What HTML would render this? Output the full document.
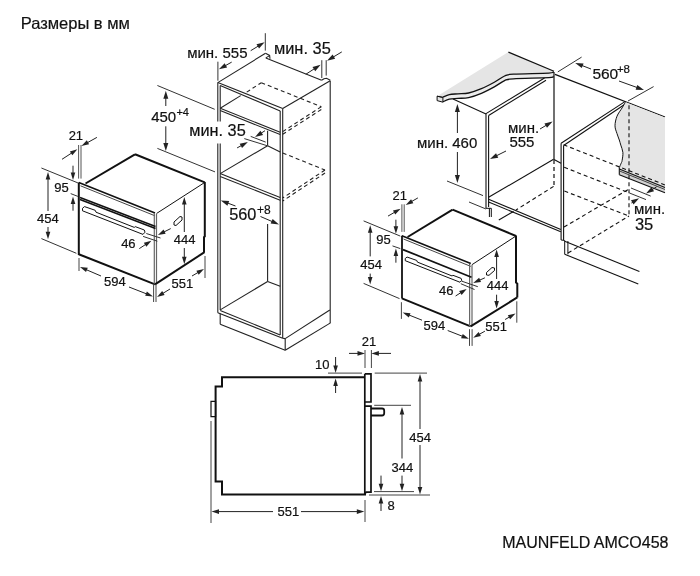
<!DOCTYPE html>
<html><head><meta charset="utf-8"><style>
html,body{margin:0;padding:0;background:#fff;}
svg{display:block;filter:blur(0.3px);font-family:"Liberation Sans",sans-serif;}
</style></head><body>
<svg width="700" height="576" viewBox="0 0 700 576">
<rect width="700" height="576" fill="#fff"/>
<text x="20.7" y="29" font-size="16.5" text-anchor="start" fill="#111" stroke="#111" stroke-width="0.2" >Размеры в мм</text>
<text x="668.5" y="547.6" font-size="16" text-anchor="end" fill="#111" stroke="#111" stroke-width="0.2" >MAUNFELD AMCO458</text>
<line x1="78.80" y1="182.50" x2="78.80" y2="255.00" stroke="#111" stroke-width="2" />
<line x1="78.80" y1="182.50" x2="155.00" y2="213.00" stroke="#111" stroke-width="1.6" />
<line x1="80.50" y1="185.80" x2="155.00" y2="215.80" stroke="#444" stroke-width="1" />
<line x1="78.80" y1="254.30" x2="155.00" y2="284.40" stroke="#111" stroke-width="2" />
<line x1="154.30" y1="213.00" x2="154.30" y2="284.30" stroke="#666" stroke-width="1.2" />
<line x1="156.50" y1="214.00" x2="156.50" y2="284.30" stroke="#666" stroke-width="1.2" />
<line x1="85.50" y1="183.50" x2="135.00" y2="154.30" stroke="#111" stroke-width="2" />
<line x1="135.00" y1="154.30" x2="204.80" y2="182.40" stroke="#111" stroke-width="2" />
<line x1="156.50" y1="213.50" x2="204.80" y2="182.40" stroke="#111" stroke-width="1" />
<polyline points="204.80,182.00 204.80,236.50 204.00,237.00 204.00,252.50" stroke="#111" stroke-width="2" fill="none" stroke-linejoin="miter" />
<line x1="155.00" y1="284.30" x2="204.50" y2="252.20" stroke="#111" stroke-width="2" />
<line x1="80.00" y1="197.60" x2="155.50" y2="226.60" stroke="#111" stroke-width="1.6" />
<line x1="80.00" y1="199.40" x2="155.50" y2="228.40" stroke="#111" stroke-width="1.6" />
<polygon points="82.50,208.30 84.50,206.60 95.20,210.30 96.00,212.20 134.30,227.40 135.20,226.60 144.30,230.00 145.00,232.20 143.00,234.40 82.50,210.80" stroke="#111" stroke-width="1" fill="none" stroke-linejoin="miter" />
<polygon points="174.00,222.00 180.00,216.50 182.00,217.00 182.00,220.00 176.00,225.50 174.00,225.00" stroke="#111" stroke-width="1" fill="none" stroke-linejoin="miter" />
<line x1="78.60" y1="145.00" x2="78.60" y2="178.60" stroke="#555" stroke-width="1" />
<line x1="81.00" y1="145.00" x2="81.00" y2="178.60" stroke="#555" stroke-width="1" />
<line x1="62.00" y1="159.30" x2="71.95" y2="152.84" stroke="#222" stroke-width="1" />
<polygon points="77.40,149.30 72.36,155.31 69.86,151.46" fill="#222"/>
<line x1="96.90" y1="137.40" x2="87.08" y2="142.85" stroke="#222" stroke-width="1" />
<polygon points="81.40,146.00 86.84,140.35 89.07,144.37" fill="#222"/>
<text x="68.65" y="139.5" font-size="13" text-anchor="start" fill="#111" stroke="#111" stroke-width="0.2" >21</text>
<line x1="73.00" y1="165.70" x2="73.00" y2="173.50" stroke="#222" stroke-width="1" />
<polygon points="73.00,180.00 70.70,172.50 75.30,172.50" fill="#222"/>
<line x1="73.00" y1="210.70" x2="73.00" y2="202.90" stroke="#222" stroke-width="1" />
<polygon points="73.00,196.40 75.30,203.90 70.70,203.90" fill="#222"/>
<line x1="70.70" y1="193.60" x2="77.90" y2="196.40" stroke="#333" stroke-width="1" />
<text x="54.35" y="191.8" font-size="13" text-anchor="start" fill="#111" stroke="#111" stroke-width="0.2" >95</text>
<line x1="41.40" y1="168.00" x2="77.90" y2="182.90" stroke="#333" stroke-width="1" />
<line x1="41.40" y1="238.60" x2="76.40" y2="253.30" stroke="#333" stroke-width="1" />
<line x1="48.00" y1="211.00" x2="48.00" y2="178.50" stroke="#222" stroke-width="1" />
<polygon points="48.00,172.00 50.30,179.50 45.70,179.50" fill="#222"/>
<line x1="48.00" y1="227.00" x2="48.00" y2="232.80" stroke="#222" stroke-width="1" />
<polygon points="48.00,239.30 45.70,231.80 50.30,231.80" fill="#222"/>
<text x="36.94" y="223.4" font-size="13" text-anchor="start" fill="#111" stroke="#111" stroke-width="0.2" >454</text>
<line x1="79.00" y1="258.00" x2="79.00" y2="271.00" stroke="#444" stroke-width="1" />
<line x1="153.60" y1="285.00" x2="153.60" y2="302.00" stroke="#444" stroke-width="1" />
<line x1="156.00" y1="285.00" x2="156.00" y2="302.00" stroke="#444" stroke-width="1" />
<line x1="101.00" y1="276.00" x2="85.97" y2="269.56" stroke="#222" stroke-width="1" />
<polygon points="80.00,267.00 87.80,267.84 85.99,272.07" fill="#222"/>
<line x1="129.00" y1="287.00" x2="146.95" y2="294.03" stroke="#222" stroke-width="1" />
<polygon points="153.00,296.40 145.18,295.81 146.86,291.52" fill="#222"/>
<text x="104.08" y="286.4" font-size="13" text-anchor="start" fill="#111" stroke="#111" stroke-width="0.2" >594</text>
<line x1="205.00" y1="256.00" x2="205.00" y2="278.00" stroke="#444" stroke-width="1" />
<line x1="170.00" y1="289.00" x2="162.54" y2="293.59" stroke="#222" stroke-width="1" />
<polygon points="157.00,297.00 162.18,291.11 164.59,295.03" fill="#222"/>
<line x1="192.00" y1="276.00" x2="198.39" y2="272.28" stroke="#222" stroke-width="1" />
<polygon points="204.00,269.00 198.68,274.77 196.36,270.79" fill="#222"/>
<text x="171.48" y="288" font-size="13" text-anchor="start" fill="#111" stroke="#111" stroke-width="0.2" >551</text>
<line x1="184.30" y1="232.00" x2="184.30" y2="203.60" stroke="#222" stroke-width="1" />
<polygon points="184.30,197.10 186.60,204.60 182.00,204.60" fill="#222"/>
<line x1="184.30" y1="248.00" x2="184.30" y2="257.80" stroke="#222" stroke-width="1" />
<polygon points="184.30,264.30 182.00,256.80 186.60,256.80" fill="#222"/>
<text x="173.74" y="244" font-size="13" text-anchor="start" fill="#111" stroke="#111" stroke-width="0.2" >444</text>
<line x1="146.30" y1="233.50" x2="160.50" y2="238.00" stroke="#333" stroke-width="1" />
<line x1="143.10" y1="236.40" x2="157.30" y2="241.20" stroke="#333" stroke-width="1" />
<line x1="139.30" y1="248.60" x2="145.96" y2="244.25" stroke="#222" stroke-width="1" />
<polygon points="151.40,240.70 146.38,246.73 143.86,242.87" fill="#222"/>
<line x1="170.70" y1="228.60" x2="163.71" y2="232.09" stroke="#222" stroke-width="1" />
<polygon points="157.90,235.00 163.58,229.59 165.64,233.70" fill="#222"/>
<text x="121.14" y="248.3" font-size="13" text-anchor="start" fill="#111" stroke="#111" stroke-width="0.2" >46</text>
<line x1="217.80" y1="82.60" x2="217.80" y2="121.40" stroke="#222" stroke-width="1.1" />
<line x1="217.80" y1="143.60" x2="217.80" y2="312.70" stroke="#222" stroke-width="1.1" />
<line x1="220.20" y1="85.50" x2="220.20" y2="121.40" stroke="#222" stroke-width="1.1" />
<line x1="220.20" y1="143.60" x2="220.20" y2="310.00" stroke="#222" stroke-width="1.1" />
<line x1="217.80" y1="82.60" x2="265.50" y2="53.30" stroke="#222" stroke-width="1.1" />
<polyline points="265.50,53.30 269.60,55.40 270.00,58.80" stroke="#222" stroke-width="1.1" fill="none" stroke-linejoin="miter" />
<line x1="265.80" y1="57.90" x2="269.60" y2="55.60" stroke="#222" stroke-width="1.1" />
<line x1="265.80" y1="57.90" x2="321.60" y2="80.20" stroke="#222" stroke-width="1.1" />
<polyline points="321.60,80.20 324.00,78.70 326.50,78.30 330.30,80.30" stroke="#222" stroke-width="1.1" fill="none" stroke-linejoin="miter" />
<line x1="217.80" y1="82.60" x2="282.70" y2="108.40" stroke="#222" stroke-width="1.1" />
<line x1="220.20" y1="85.40" x2="280.20" y2="111.00" stroke="#222" stroke-width="1.1" />
<line x1="282.70" y1="108.40" x2="330.20" y2="80.80" stroke="#222" stroke-width="1.1" />
<line x1="280.20" y1="111.00" x2="280.20" y2="335.00" stroke="#222" stroke-width="1.1" />
<line x1="282.70" y1="108.40" x2="282.70" y2="338.30" stroke="#222" stroke-width="1.1" />
<line x1="330.20" y1="80.80" x2="330.20" y2="322.90" stroke="#222" stroke-width="1.1" />
<line x1="220.20" y1="108.20" x2="280.20" y2="132.30" stroke="#222" stroke-width="1.1" />
<line x1="220.20" y1="110.60" x2="280.20" y2="134.60" stroke="#222" stroke-width="1.1" />
<line x1="220.20" y1="108.20" x2="240.70" y2="95.60" stroke="#222" stroke-width="1.1" />
<line x1="246.70" y1="92.10" x2="261.30" y2="82.70" stroke="#222" stroke-width="1.1" stroke-dasharray="4,3"/>
<line x1="261.30" y1="82.70" x2="321.30" y2="106.70" stroke="#222" stroke-width="1.1" stroke-dasharray="4,3"/>
<line x1="321.30" y1="106.70" x2="282.70" y2="131.60" stroke="#222" stroke-width="1.1" stroke-dasharray="4,3"/>
<line x1="321.30" y1="109.50" x2="282.70" y2="134.30" stroke="#222" stroke-width="1.1" stroke-dasharray="4,3"/>
<line x1="267.60" y1="130.70" x2="267.60" y2="145.70" stroke="#222" stroke-width="1.1" />
<line x1="220.20" y1="173.60" x2="280.20" y2="197.60" stroke="#222" stroke-width="1.1" />
<line x1="220.20" y1="176.40" x2="280.20" y2="200.20" stroke="#222" stroke-width="1.1" />
<line x1="220.20" y1="173.60" x2="267.60" y2="145.70" stroke="#222" stroke-width="1.1" />
<line x1="267.60" y1="145.70" x2="280.20" y2="152.00" stroke="#222" stroke-width="1.1" />
<line x1="282.70" y1="153.00" x2="325.00" y2="170.00" stroke="#222" stroke-width="1.1" stroke-dasharray="4,3"/>
<line x1="325.00" y1="170.00" x2="282.70" y2="198.00" stroke="#222" stroke-width="1.1" stroke-dasharray="4,3"/>
<line x1="325.00" y1="173.00" x2="282.70" y2="201.00" stroke="#222" stroke-width="1.1" stroke-dasharray="4,3"/>
<line x1="267.60" y1="224.00" x2="267.60" y2="281.50" stroke="#222" stroke-width="1.1" />
<line x1="220.20" y1="309.90" x2="267.60" y2="281.50" stroke="#222" stroke-width="1.1" />
<line x1="267.60" y1="281.50" x2="280.20" y2="286.30" stroke="#222" stroke-width="1.1" />
<line x1="220.20" y1="310.50" x2="280.20" y2="335.00" stroke="#222" stroke-width="1.1" />
<line x1="217.80" y1="312.70" x2="282.70" y2="338.30" stroke="#222" stroke-width="1.1" />
<line x1="220.20" y1="313.50" x2="220.20" y2="324.20" stroke="#222" stroke-width="1.1" />
<line x1="220.20" y1="324.20" x2="285.20" y2="350.20" stroke="#222" stroke-width="1.1" />
<line x1="282.70" y1="338.30" x2="285.20" y2="338.60" stroke="#222" stroke-width="1.1" />
<line x1="285.20" y1="338.60" x2="285.20" y2="350.20" stroke="#222" stroke-width="1.1" />
<line x1="285.20" y1="350.20" x2="330.50" y2="322.90" stroke="#222" stroke-width="1.1" />
<line x1="285.20" y1="338.60" x2="329.80" y2="310.00" stroke="#222" stroke-width="1.1" />
<line x1="217.90" y1="61.70" x2="217.90" y2="80.70" stroke="#333" stroke-width="1" />
<line x1="265.30" y1="33.20" x2="265.30" y2="50.60" stroke="#333" stroke-width="1" />
<line x1="231.70" y1="62.10" x2="225.00" y2="65.87" stroke="#222" stroke-width="1" />
<polygon points="218.90,69.30 224.65,63.20 227.10,67.56" fill="#222"/>
<line x1="250.70" y1="50.70" x2="258.63" y2="45.85" stroke="#222" stroke-width="1" />
<polygon points="264.60,42.20 259.08,48.51 256.47,44.24" fill="#222"/>
<line x1="321.80" y1="60.20" x2="321.80" y2="78.00" stroke="#333" stroke-width="1" />
<line x1="326.20" y1="60.20" x2="326.20" y2="75.60" stroke="#333" stroke-width="1" />
<line x1="305.80" y1="74.30" x2="314.73" y2="68.51" stroke="#222" stroke-width="1" />
<polygon points="320.60,64.70 315.25,71.15 312.53,66.96" fill="#222"/>
<line x1="341.80" y1="51.90" x2="333.00" y2="57.19" stroke="#222" stroke-width="1" />
<polygon points="327.00,60.80 332.57,54.53 335.14,58.82" fill="#222"/>
<line x1="157.40" y1="85.50" x2="214.70" y2="109.30" stroke="#333" stroke-width="1" />
<line x1="157.40" y1="148.40" x2="215.00" y2="171.90" stroke="#333" stroke-width="1" />
<line x1="165.80" y1="106.00" x2="165.80" y2="97.70" stroke="#222" stroke-width="1" />
<polygon points="165.80,90.70 168.30,98.70 163.30,98.70" fill="#222"/>
<line x1="165.80" y1="126.30" x2="165.80" y2="144.00" stroke="#222" stroke-width="1" />
<polygon points="165.80,151.00 163.30,143.00 168.30,143.00" fill="#222"/>
<line x1="235.50" y1="206.00" x2="227.36" y2="202.95" stroke="#222" stroke-width="1" />
<polygon points="220.80,200.50 229.17,200.96 227.42,205.64" fill="#222"/>
<line x1="260.50" y1="216.50" x2="272.58" y2="221.72" stroke="#222" stroke-width="1" />
<polygon points="279.00,224.50 270.66,223.62 272.65,219.03" fill="#222"/>
<line x1="250.70" y1="136.40" x2="265.70" y2="142.10" stroke="#333" stroke-width="1" />
<line x1="244.30" y1="138.60" x2="267.10" y2="145.70" stroke="#333" stroke-width="1" />
<line x1="265.00" y1="130.70" x2="260.90" y2="133.33" stroke="#222" stroke-width="1" />
<polygon points="255.00,137.10 260.39,130.68 263.09,134.89" fill="#222"/>
<line x1="237.10" y1="147.90" x2="241.73" y2="145.41" stroke="#222" stroke-width="1" />
<polygon points="247.90,142.10 242.03,148.09 239.67,143.68" fill="#222"/>
<text x="187.15" y="57.6" font-size="15" text-anchor="start" fill="#111" stroke="#111" stroke-width="0.2" >мин. 555</text>
<text x="273.95" y="54.3" font-size="16.4" text-anchor="start" fill="#111" stroke="#111" stroke-width="0.2" >мин. 35</text>
<text x="151.2" y="121.6" font-size="15" text-anchor="start" fill="#111" stroke="#111" stroke-width="0.2" >450</text>
<text x="176.45" y="115.6" font-size="11" text-anchor="start" fill="#111" stroke="#111" stroke-width="0.2" >+4</text>
<text x="229.15" y="220" font-size="16.3" text-anchor="start" fill="#111" stroke="#111" stroke-width="0.2" >560</text>
<text x="256.9" y="213.8" font-size="12" text-anchor="start" fill="#111" stroke="#111" stroke-width="0.2" >+8</text>
<text x="189.26" y="135.7" font-size="16.3" text-anchor="start" fill="#111" stroke="#111" stroke-width="0.2" >мин. 35</text>
<line x1="402.00" y1="235.80" x2="402.00" y2="298.60" stroke="#111" stroke-width="1.8" />
<line x1="401.90" y1="235.80" x2="470.80" y2="263.60" stroke="#111" stroke-width="1.6" />
<line x1="403.50" y1="239.00" x2="470.80" y2="266.40" stroke="#444" stroke-width="1" />
<line x1="401.90" y1="298.40" x2="470.60" y2="326.40" stroke="#111" stroke-width="2" />
<line x1="469.60" y1="264.00" x2="469.60" y2="326.40" stroke="#666" stroke-width="1.2" />
<line x1="472.00" y1="264.80" x2="472.00" y2="326.40" stroke="#666" stroke-width="1.2" />
<line x1="407.60" y1="237.00" x2="452.60" y2="209.70" stroke="#111" stroke-width="2" />
<line x1="452.60" y1="209.70" x2="516.00" y2="236.00" stroke="#111" stroke-width="2" />
<line x1="472.10" y1="264.60" x2="516.00" y2="236.00" stroke="#111" stroke-width="1" />
<polyline points="516.00,235.60 516.00,282.50 517.30,283.60 517.30,297.60" stroke="#111" stroke-width="2" fill="none" stroke-linejoin="miter" />
<line x1="470.60" y1="326.40" x2="517.30" y2="297.40" stroke="#111" stroke-width="2" />
<line x1="403.00" y1="249.60" x2="471.50" y2="277.20" stroke="#111" stroke-width="1.7" />
<polygon points="405.25,258.50 407.05,257.04 416.73,260.43 417.45,262.11 452.08,275.97 452.90,275.28 461.13,278.38 461.76,280.32 459.95,282.23 405.25,260.70" stroke="#111" stroke-width="1" fill="none" stroke-linejoin="miter" />
<polygon points="486.50,272.50 492.00,267.50 494.50,268.00 494.50,270.50 489.00,275.30 486.50,275.00" stroke="#111" stroke-width="1" fill="none" stroke-linejoin="miter" />
<line x1="401.90" y1="204.30" x2="401.90" y2="231.90" stroke="#555" stroke-width="1" />
<line x1="404.20" y1="204.30" x2="404.20" y2="231.90" stroke="#555" stroke-width="1" />
<line x1="388.00" y1="216.10" x2="394.98" y2="212.06" stroke="#222" stroke-width="1" />
<polygon points="400.60,208.80 395.26,214.55 392.96,210.57" fill="#222"/>
<line x1="417.90" y1="197.90" x2="411.34" y2="201.67" stroke="#222" stroke-width="1" />
<polygon points="405.70,204.90 411.06,199.17 413.35,203.16" fill="#222"/>
<text x="392.45" y="199.5" font-size="13" text-anchor="start" fill="#111" stroke="#111" stroke-width="0.2" >21</text>
<line x1="395.90" y1="219.70" x2="395.90" y2="227.30" stroke="#222" stroke-width="1" />
<polygon points="395.90,233.80 393.60,226.30 398.20,226.30" fill="#222"/>
<line x1="395.90" y1="262.70" x2="395.90" y2="255.10" stroke="#222" stroke-width="1" />
<polygon points="395.90,248.60 398.20,256.10 393.60,256.10" fill="#222"/>
<line x1="392.50" y1="245.90" x2="400.30" y2="248.60" stroke="#333" stroke-width="1" />
<text x="376.25" y="244.4" font-size="13" text-anchor="start" fill="#111" stroke="#111" stroke-width="0.2" >95</text>
<line x1="363.60" y1="220.90" x2="400.30" y2="236.10" stroke="#333" stroke-width="1" />
<line x1="363.60" y1="283.40" x2="399.50" y2="298.60" stroke="#333" stroke-width="1" />
<line x1="370.20" y1="256.40" x2="370.20" y2="231.70" stroke="#222" stroke-width="1" />
<polygon points="370.20,225.20 372.50,232.70 367.90,232.70" fill="#222"/>
<line x1="370.20" y1="273.60" x2="370.20" y2="278.00" stroke="#222" stroke-width="1" />
<polygon points="370.20,284.50 367.90,277.00 372.50,277.00" fill="#222"/>
<text x="360.24" y="269.4" font-size="13" text-anchor="start" fill="#111" stroke="#111" stroke-width="0.2" >454</text>
<line x1="401.40" y1="302.20" x2="401.40" y2="318.90" stroke="#444" stroke-width="1" />
<line x1="422.00" y1="320.20" x2="408.74" y2="314.91" stroke="#222" stroke-width="1" />
<polygon points="402.70,312.50 410.52,313.14 408.81,317.42" fill="#222"/>
<line x1="447.70" y1="330.50" x2="462.85" y2="336.43" stroke="#222" stroke-width="1" />
<polygon points="468.90,338.80 461.08,338.21 462.75,333.92" fill="#222"/>
<line x1="469.50" y1="329.20" x2="469.50" y2="345.90" stroke="#444" stroke-width="1" />
<line x1="472.10" y1="329.20" x2="472.10" y2="345.90" stroke="#444" stroke-width="1" />
<text x="423.48" y="329.6" font-size="13" text-anchor="start" fill="#111" stroke="#111" stroke-width="0.2" >594</text>
<line x1="516.80" y1="301.30" x2="516.80" y2="322.70" stroke="#444" stroke-width="1" />
<line x1="505.10" y1="319.50" x2="509.85" y2="316.81" stroke="#222" stroke-width="1" />
<polygon points="515.50,313.60 510.11,319.30 507.84,315.30" fill="#222"/>
<line x1="484.90" y1="331.20" x2="478.88" y2="334.54" stroke="#222" stroke-width="1" />
<polygon points="473.20,337.70 478.64,332.05 480.87,336.07" fill="#222"/>
<text x="485.28" y="330.6" font-size="13" text-anchor="start" fill="#111" stroke="#111" stroke-width="0.2" >551</text>
<line x1="496.60" y1="279.00" x2="496.60" y2="255.90" stroke="#222" stroke-width="1" />
<polygon points="496.60,249.40 498.90,256.90 494.30,256.90" fill="#222"/>
<line x1="496.60" y1="294.70" x2="496.60" y2="301.90" stroke="#222" stroke-width="1" />
<polygon points="496.60,308.40 494.30,300.90 498.90,300.90" fill="#222"/>
<text x="486.84" y="290.4" font-size="13" text-anchor="start" fill="#111" stroke="#111" stroke-width="0.2" >444</text>
<line x1="461.50" y1="281.10" x2="477.80" y2="286.70" stroke="#333" stroke-width="1" />
<line x1="460.80" y1="283.70" x2="474.50" y2="289.50" stroke="#333" stroke-width="1" />
<line x1="455.60" y1="296.00" x2="461.22" y2="292.40" stroke="#222" stroke-width="1" />
<polygon points="466.70,288.90 461.62,294.88 459.14,291.00" fill="#222"/>
<line x1="484.90" y1="277.80" x2="479.14" y2="280.36" stroke="#222" stroke-width="1" />
<polygon points="473.20,283.00 479.12,277.85 480.99,282.06" fill="#222"/>
<text x="439.04" y="295.4" font-size="13" text-anchor="start" fill="#111" stroke="#111" stroke-width="0.2" >46</text>
<path d="M437.1,96.2 L508.4,52.1 L554,71.2 L553.50,71.60 C552.72,71.85 555.47,72.67 548.80,73.10 C542.13,73.53 520.87,73.72 513.50,74.20 C506.13,74.68 507.80,74.65 504.60,76.00 C501.40,77.35 498.17,80.18 494.30,82.30 C490.43,84.42 485.68,86.92 481.40,88.70 C477.12,90.48 472.50,92.15 468.60,93.00 C464.70,93.85 461.22,93.53 458.00,93.80 C454.78,94.07 451.82,94.03 449.30,94.60 C446.78,95.17 443.97,96.77 442.90,97.20 Z" fill="#e5e5e5"/>
<path d="M442.90,97.20 C443.97,96.77 446.78,95.17 449.30,94.60 C451.82,94.03 454.78,94.07 458.00,93.80 C461.22,93.53 464.70,93.85 468.60,93.00 C472.50,92.15 477.12,90.48 481.40,88.70 C485.68,86.92 490.43,84.42 494.30,82.30 C498.17,80.18 501.40,77.35 504.60,76.00 C507.80,74.65 506.13,74.68 513.50,74.20 C520.87,73.72 542.13,73.53 548.80,73.10 C555.47,72.67 552.72,71.85 553.50,71.60 L553.50,76.20 C552.72,76.45 555.47,77.27 548.80,77.70 C542.13,78.13 520.87,78.32 513.50,78.80 C506.13,79.28 507.80,79.25 504.60,80.60 C501.40,81.95 498.17,84.78 494.30,86.90 C490.43,89.02 485.68,91.52 481.40,93.30 C477.12,95.08 472.50,96.75 468.60,97.60 C464.70,98.45 461.22,98.13 458.00,98.40 C454.78,98.67 451.82,98.63 449.30,99.20 C446.78,99.77 443.97,101.37 442.90,101.80 Z" fill="#ececec"/>
<path d="M442.90,97.20 C443.97,96.77 446.78,95.17 449.30,94.60 C451.82,94.03 454.78,94.07 458.00,93.80 C461.22,93.53 464.70,93.85 468.60,93.00 C472.50,92.15 477.12,90.48 481.40,88.70 C485.68,86.92 490.43,84.42 494.30,82.30 C498.17,80.18 501.40,77.35 504.60,76.00 C507.80,74.65 506.13,74.68 513.50,74.20 C520.87,73.72 542.13,73.53 548.80,73.10 C555.47,72.67 552.72,71.85 553.50,71.60" stroke="#111" stroke-width="1.3" fill="none"/>
<path d="M442.90,101.80 C443.97,101.37 446.78,99.77 449.30,99.20 C451.82,98.63 454.78,98.67 458.00,98.40 C461.22,98.13 464.70,98.45 468.60,97.60 C472.50,96.75 477.12,95.08 481.40,93.30 C485.68,91.52 490.43,89.02 494.30,86.90 C498.17,84.78 501.40,81.95 504.60,80.60 C507.80,79.25 506.13,79.28 513.50,78.80 C520.87,78.32 542.13,78.13 548.80,77.70 C555.47,77.27 552.72,76.45 553.50,76.20" stroke="#111" stroke-width="1.3" fill="none"/>
<polygon points="437.10,96.20 442.90,97.40 442.90,102.20 437.10,100.60" stroke="#111" stroke-width="1" fill="#e4e4e4" stroke-linejoin="miter" />
<line x1="437.10" y1="96.20" x2="442.90" y2="97.40" stroke="#111" stroke-width="1" />
<line x1="508.40" y1="52.10" x2="554.00" y2="71.20" stroke="#111" stroke-width="1.2" />
<line x1="555.00" y1="74.40" x2="665.00" y2="117.00" stroke="#111" stroke-width="1.2" />
<line x1="554.00" y1="71.90" x2="554.00" y2="159.30" stroke="#111" stroke-width="1.2" />
<line x1="554.00" y1="160.00" x2="554.00" y2="186.40" stroke="#111" stroke-width="1.2" stroke-dasharray="4,3"/>
<line x1="453.00" y1="99.00" x2="486.00" y2="114.00" stroke="#111" stroke-width="1.1" />
<line x1="486.00" y1="113.60" x2="486.00" y2="208.30" stroke="#111" stroke-width="1.1" />
<line x1="488.60" y1="115.50" x2="488.60" y2="207.00" stroke="#111" stroke-width="1.1" />
<line x1="486.00" y1="113.60" x2="544.50" y2="78.00" stroke="#111" stroke-width="1.1" />
<line x1="488.60" y1="115.50" x2="546.00" y2="80.20" stroke="#111" stroke-width="1.1" />
<line x1="486.00" y1="208.30" x2="491.30" y2="208.30" stroke="#111" stroke-width="1" />
<line x1="489.40" y1="208.30" x2="489.40" y2="217.00" stroke="#111" stroke-width="1" />
<line x1="491.30" y1="208.30" x2="491.30" y2="217.00" stroke="#111" stroke-width="1" />
<line x1="488.60" y1="197.30" x2="553.60" y2="159.30" stroke="#111" stroke-width="1.1" />
<line x1="553.60" y1="159.30" x2="561.00" y2="163.30" stroke="#111" stroke-width="1.1" />
<line x1="488.60" y1="199.20" x2="560.80" y2="229.40" stroke="#111" stroke-width="1.1" />
<line x1="488.60" y1="202.00" x2="560.80" y2="231.80" stroke="#111" stroke-width="1.1" />
<line x1="553.60" y1="186.40" x2="516.00" y2="210.00" stroke="#111" stroke-width="1.1" stroke-dasharray="4,3"/>
<line x1="513.60" y1="211.40" x2="498.80" y2="220.00" stroke="#111" stroke-width="1.1" />
<line x1="561.10" y1="143.20" x2="561.10" y2="240.00" stroke="#111" stroke-width="1.1" />
<line x1="563.60" y1="145.50" x2="563.60" y2="240.00" stroke="#111" stroke-width="1.1" />
<line x1="561.10" y1="143.20" x2="625.30" y2="101.40" stroke="#111" stroke-width="1.1" />
<line x1="563.60" y1="145.50" x2="625.30" y2="104.00" stroke="#111" stroke-width="1.1" />
<line x1="561.10" y1="240.00" x2="564.70" y2="240.50" stroke="#111" stroke-width="1" />
<line x1="564.70" y1="240.50" x2="564.70" y2="254.30" stroke="#111" stroke-width="1" />
<line x1="567.90" y1="241.00" x2="567.90" y2="254.30" stroke="#111" stroke-width="1" />
<line x1="564.70" y1="241.20" x2="639.40" y2="271.40" stroke="#111" stroke-width="1.1" />
<line x1="564.70" y1="254.30" x2="638.30" y2="284.00" stroke="#111" stroke-width="1.1" />
<path d="M625.30,102.30 C624.77,103.23 623.48,105.58 622.10,107.90 C620.72,110.22 618.18,113.22 617.00,116.20 C615.82,119.18 615.00,122.90 615.00,125.80 C615.00,128.70 616.28,131.23 617.00,133.60 C617.72,135.97 618.67,138.08 619.30,140.00 C619.93,141.92 620.20,143.02 620.80,145.10 C621.40,147.18 622.68,149.92 622.90,152.50 C623.12,155.08 622.38,158.83 622.10,160.60 C621.82,162.37 621.67,161.93 621.20,163.10 C620.73,164.27 619.62,166.85 619.30,167.60 L619.3,168.9 L665,187.4 L665,117.4 L625.3,102 Z" fill="#e5e5e5"/>
<path d="M625.30,102.30 C624.77,103.23 623.48,105.58 622.10,107.90 C620.72,110.22 618.18,113.22 617.00,116.20 C615.82,119.18 615.00,122.90 615.00,125.80 C615.00,128.70 616.28,131.23 617.00,133.60 C617.72,135.97 618.67,138.08 619.30,140.00 C619.93,141.92 620.20,143.02 620.80,145.10 C621.40,147.18 622.68,149.92 622.90,152.50 C623.12,155.08 622.38,158.83 622.10,160.60 C621.82,162.37 621.67,161.93 621.20,163.10 C620.73,164.27 619.62,166.85 619.30,167.60" stroke="#111" stroke-width="1" fill="none"/>
<polygon points="619.30,168.90 665.00,187.60 665.00,192.80 619.30,174.70" stroke="none" stroke-width="0" fill="#d2d2d2" stroke-linejoin="miter" />
<line x1="619.30" y1="168.90" x2="665.00" y2="187.60" stroke="#111" stroke-width="1.1" />
<line x1="619.30" y1="174.70" x2="665.00" y2="192.80" stroke="#111" stroke-width="1.1" />
<line x1="619.30" y1="167.60" x2="619.30" y2="174.70" stroke="#111" stroke-width="1.1" />
<line x1="619.30" y1="170.90" x2="665.00" y2="189.50" stroke="#333" stroke-width="0.9" />
<line x1="629.00" y1="105.30" x2="629.00" y2="216.00" stroke="#111" stroke-width="1.1" stroke-dasharray="4,3"/>
<line x1="563.60" y1="144.80" x2="664.90" y2="184.90" stroke="#111" stroke-width="1.1" stroke-dasharray="4,3"/>
<line x1="564.20" y1="167.30" x2="629.70" y2="193.10" stroke="#111" stroke-width="1.1" stroke-dasharray="4,3"/>
<line x1="564.40" y1="191.10" x2="629.00" y2="216.00" stroke="#111" stroke-width="1.1" stroke-dasharray="4,3"/>
<line x1="564.00" y1="227.00" x2="629.00" y2="189.00" stroke="#111" stroke-width="1.1" stroke-dasharray="4,3"/>
<line x1="568.00" y1="253.00" x2="629.00" y2="216.00" stroke="#111" stroke-width="1.1" stroke-dasharray="4,3"/>
<line x1="457.40" y1="133.00" x2="457.40" y2="111.00" stroke="#222" stroke-width="1" />
<polygon points="457.40,104.00 459.90,112.00 454.90,112.00" fill="#222"/>
<line x1="457.40" y1="152.00" x2="457.40" y2="176.00" stroke="#222" stroke-width="1" />
<polygon points="457.40,183.00 454.90,175.00 459.90,175.00" fill="#222"/>
<line x1="447.00" y1="181.00" x2="483.00" y2="195.60" stroke="#333" stroke-width="1" />
<line x1="469.00" y1="202.00" x2="486.00" y2="209.00" stroke="#333" stroke-width="1" />
<text x="416.95" y="147.8" font-size="15" text-anchor="start" fill="#111" stroke="#111" stroke-width="0.2" >мин. 460</text>
<text x="507.95" y="133.2" font-size="15" text-anchor="start" fill="#111" stroke="#111" stroke-width="0.2" >мин.</text>
<text x="509.4" y="147.2" font-size="15" text-anchor="start" fill="#111" stroke="#111" stroke-width="0.2" >555</text>
<line x1="540.00" y1="129.00" x2="546.58" y2="125.08" stroke="#222" stroke-width="1" />
<polygon points="552.60,121.50 547.00,127.74 544.45,123.44" fill="#222"/>
<line x1="506.00" y1="151.00" x2="496.26" y2="155.87" stroke="#222" stroke-width="1" />
<polygon points="490.00,159.00 496.04,153.19 498.27,157.66" fill="#222"/>
<line x1="557.80" y1="71.90" x2="581.60" y2="57.10" stroke="#333" stroke-width="1" />
<line x1="628.00" y1="101.00" x2="653.60" y2="86.60" stroke="#333" stroke-width="1" />
<line x1="591.00" y1="69.00" x2="581.73" y2="65.42" stroke="#222" stroke-width="1" />
<polygon points="575.20,62.90 583.56,63.45 581.76,68.11" fill="#222"/>
<line x1="619.00" y1="81.00" x2="637.41" y2="87.63" stroke="#222" stroke-width="1" />
<polygon points="644.00,90.00 635.63,89.64 637.32,84.94" fill="#222"/>
<text x="592.38" y="79" font-size="15.5" text-anchor="start" fill="#111" stroke="#111" stroke-width="0.2" >560</text>
<text x="616.92" y="73" font-size="11.5" text-anchor="start" fill="#111" stroke="#111" stroke-width="0.2" >+8</text>
<line x1="631.00" y1="188.00" x2="650.70" y2="196.10" stroke="#333" stroke-width="1" />
<line x1="629.70" y1="193.10" x2="646.00" y2="199.60" stroke="#333" stroke-width="1" />
<line x1="656.70" y1="186.70" x2="651.88" y2="189.81" stroke="#222" stroke-width="1" />
<polygon points="646.00,193.60 651.37,187.16 654.08,191.37" fill="#222"/>
<line x1="631.40" y1="203.00" x2="633.13" y2="201.95" stroke="#222" stroke-width="1" />
<polygon points="639.10,198.30 633.57,204.60 630.97,200.33" fill="#222"/>
<text x="633.95" y="214.2" font-size="15" text-anchor="start" fill="#111" stroke="#111" stroke-width="0.2" >мин.</text>
<text x="634.94" y="229.6" font-size="16.5" text-anchor="start" fill="#111" stroke="#111" stroke-width="0.2" >35</text>
<polyline points="364.80,377.30 222.00,377.30 222.00,386.60 215.60,386.60 215.60,481.60 222.00,481.60 222.00,494.40 366.00,494.40" stroke="#111" stroke-width="2" fill="none" stroke-linejoin="miter" />
<polygon points="211.00,401.40 215.60,401.40 215.60,416.60 211.00,416.60" stroke="#111" stroke-width="1.2" fill="none" stroke-linejoin="miter" />
<line x1="364.80" y1="373.90" x2="364.80" y2="494.40" stroke="#111" stroke-width="1.7" />
<polyline points="364.80,373.90 371.00,373.90 371.00,402.00 364.80,402.00" stroke="#111" stroke-width="1.7" fill="none" stroke-linejoin="miter" />
<polyline points="364.80,406.10 371.00,406.10 371.00,492.20 366.00,492.20 364.80,494.40" stroke="#111" stroke-width="1.7" fill="none" stroke-linejoin="miter" />
<path d="M371,408.5 H382 Q384.2,408.5 384.2,410.7 V413.3 Q384.2,415.5 382,415.5 H371" fill="none" stroke="#111" stroke-width="1.8"/>
<line x1="211.00" y1="421.00" x2="211.00" y2="523.00" stroke="#444" stroke-width="1" />
<line x1="365.00" y1="350.00" x2="365.00" y2="368.00" stroke="#444" stroke-width="1" />
<line x1="371.40" y1="350.00" x2="371.40" y2="368.00" stroke="#444" stroke-width="1" />
<line x1="328.00" y1="373.10" x2="362.00" y2="373.10" stroke="#444" stroke-width="1" />
<line x1="374.70" y1="373.10" x2="427.00" y2="373.10" stroke="#444" stroke-width="1" />
<line x1="374.20" y1="405.30" x2="411.00" y2="405.30" stroke="#444" stroke-width="1" />
<line x1="374.00" y1="491.60" x2="414.00" y2="491.60" stroke="#444" stroke-width="1" />
<line x1="369.00" y1="495.00" x2="430.00" y2="495.00" stroke="#444" stroke-width="1" />
<line x1="365.00" y1="500.00" x2="365.00" y2="522.00" stroke="#444" stroke-width="1" />
<line x1="349.00" y1="353.40" x2="358.50" y2="353.40" stroke="#222" stroke-width="1" />
<polygon points="365.00,353.40 357.50,355.70 357.50,351.10" fill="#222"/>
<line x1="391.00" y1="353.40" x2="377.90" y2="353.40" stroke="#222" stroke-width="1" />
<polygon points="371.40,353.40 378.90,351.10 378.90,355.70" fill="#222"/>
<line x1="335.60" y1="357.00" x2="335.60" y2="366.50" stroke="#222" stroke-width="1" />
<polygon points="335.60,373.00 333.30,365.50 337.90,365.50" fill="#222"/>
<line x1="335.60" y1="393.00" x2="335.60" y2="385.10" stroke="#222" stroke-width="1" />
<polygon points="335.60,378.60 337.90,386.10 333.30,386.10" fill="#222"/>
<line x1="420.00" y1="429.00" x2="420.00" y2="380.50" stroke="#222" stroke-width="1" />
<polygon points="420.00,374.00 422.30,381.50 417.70,381.50" fill="#222"/>
<line x1="420.00" y1="445.00" x2="420.00" y2="487.90" stroke="#222" stroke-width="1" />
<polygon points="420.00,494.40 417.70,486.90 422.30,486.90" fill="#222"/>
<line x1="402.00" y1="458.50" x2="402.00" y2="413.50" stroke="#222" stroke-width="1" />
<polygon points="402.00,407.00 404.30,414.50 399.70,414.50" fill="#222"/>
<line x1="402.00" y1="475.60" x2="402.00" y2="484.70" stroke="#222" stroke-width="1" />
<polygon points="402.00,491.20 399.70,483.70 404.30,483.70" fill="#222"/>
<line x1="381.00" y1="475.60" x2="381.00" y2="484.70" stroke="#222" stroke-width="1" />
<polygon points="381.00,491.20 378.70,483.70 383.30,483.70" fill="#222"/>
<line x1="381.00" y1="511.00" x2="381.00" y2="502.50" stroke="#222" stroke-width="1" />
<polygon points="381.00,496.00 383.30,503.50 378.70,503.50" fill="#222"/>
<line x1="273.00" y1="511.60" x2="218.00" y2="511.60" stroke="#222" stroke-width="1" />
<polygon points="211.50,511.60 219.00,509.30 219.00,513.90" fill="#222"/>
<line x1="301.00" y1="511.60" x2="357.80" y2="511.60" stroke="#222" stroke-width="1" />
<polygon points="364.30,511.60 356.80,513.90 356.80,509.30" fill="#222"/>
<text x="361.75" y="345.8" font-size="13" text-anchor="start" fill="#111" stroke="#111" stroke-width="0.2" >21</text>
<text x="314.96" y="369.4" font-size="13" text-anchor="start" fill="#111" stroke="#111" stroke-width="0.2" >10</text>
<text x="409.34" y="441.5" font-size="13" text-anchor="start" fill="#111" stroke="#111" stroke-width="0.2" >454</text>
<text x="391.48" y="471.8" font-size="13" text-anchor="start" fill="#111" stroke="#111" stroke-width="0.2" >344</text>
<text x="387.48" y="510.2" font-size="13" text-anchor="start" fill="#111" stroke="#111" stroke-width="0.2" >8</text>
<text x="277.48" y="516.3" font-size="13" text-anchor="start" fill="#111" stroke="#111" stroke-width="0.2" >551</text>
</svg></body></html>
